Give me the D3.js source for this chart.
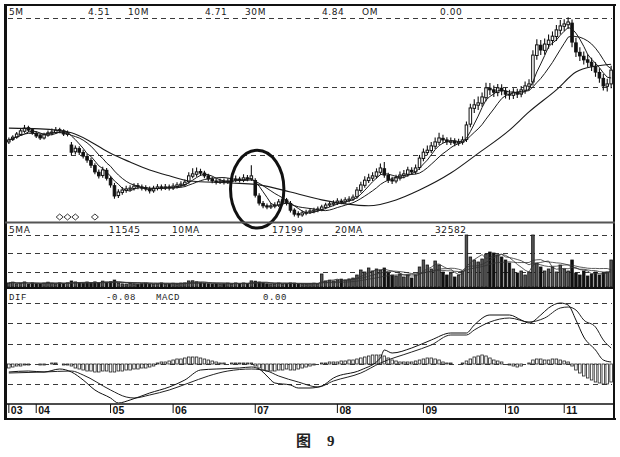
<!DOCTYPE html>
<html><head><meta charset="utf-8">
<script src="https://cdn.jsdelivr.net/npm/d3@7"></script>
<style>
html,body{margin:0;padding:0;background:#fff;}
svg{display:block;}
</style></head><body>
<svg id="chart" width="620" height="457"></svg>
<script>
// ---------------- DATA ----------------
const monthLabels = ["03","04","05","06","07","08","09","10","11"];
const monthStart  = [0, 7, 26, 42, 63, 84, 106, 127, 142];

const open = [2.93,2.99,3.05,3.12,3.20,3.29,3.24,3.15,3.09,3.03,3.10,3.15,3.17,3.24,3.21,3.12,
2.85,2.68,2.76,2.66,2.56,2.46,2.33,2.16,2.08,2.21,2.00,1.82,1.57,1.65,1.70,1.73,
1.75,1.82,1.79,1.77,1.74,1.69,1.75,1.79,1.76,1.79,1.76,1.80,1.83,1.85,1.92,2.06,
2.11,2.18,2.14,2.07,1.99,1.94,1.91,1.94,1.91,1.93,1.96,1.99,1.96,2.02,1.99,1.95,
1.56,1.37,1.31,1.28,1.30,1.33,1.40,1.46,1.37,1.20,1.11,1.08,1.12,1.15,1.17,1.20,
1.22,1.27,1.33,1.35,1.38,1.43,1.41,1.45,1.48,1.54,1.70,1.83,1.95,2.01,2.06,2.16,
2.25,2.08,1.97,1.94,2.01,2.08,2.11,2.21,2.17,2.28,2.51,2.66,2.71,2.82,2.92,3.02,
2.98,2.92,2.95,2.90,2.92,2.99,3.38,3.78,3.86,3.91,4.05,4.29,4.25,4.18,4.29,4.22,
4.14,4.11,4.19,4.14,4.24,4.34,4.45,5.12,5.38,5.25,5.40,5.50,5.60,5.76,5.86,5.90,
5.94,5.44,5.20,5.10,5.01,4.95,4.84,4.69,4.54,4.34,4.40];
const high = [3.04,3.10,3.18,3.27,3.36,3.34,3.28,3.20,3.14,3.16,3.22,3.27,3.31,3.29,3.25,3.22,
2.93,2.84,2.82,2.73,2.63,2.53,2.39,2.23,2.30,2.27,2.06,1.89,1.73,1.79,1.82,1.83,
1.88,1.89,1.85,1.83,1.80,1.82,1.86,1.85,1.86,1.85,1.88,1.91,1.93,1.98,2.16,2.26,
2.28,2.25,2.20,2.12,2.05,2.00,2.00,2.00,2.01,2.03,2.08,2.05,2.11,2.09,2.34,2.01,
1.63,1.43,1.37,1.38,1.40,1.48,1.53,1.51,1.43,1.25,1.17,1.19,1.21,1.24,1.26,1.29,
1.34,1.39,1.43,1.45,1.50,1.49,1.53,1.55,1.60,1.79,1.92,2.06,2.12,2.16,2.26,2.38,
2.42,2.15,2.05,2.10,2.18,2.22,2.30,2.29,2.36,2.60,2.76,2.84,2.93,3.04,3.16,3.11,
3.05,3.04,3.02,3.01,3.07,3.45,3.90,4.01,4.08,4.18,4.43,4.42,4.36,4.40,4.39,4.31,
4.25,4.29,4.28,4.35,4.46,4.52,5.25,5.53,5.51,5.55,5.65,5.73,5.89,6.02,6.04,6.09,
6.03,5.57,5.33,5.22,5.15,5.06,4.95,4.80,4.65,4.53,4.86];
const low = [2.88,2.95,3.01,3.08,3.16,3.18,3.11,3.03,2.98,2.99,3.06,3.10,3.13,3.15,3.08,3.07,
2.59,2.61,2.60,2.51,2.40,2.27,2.11,2.00,2.02,1.95,1.77,1.49,1.51,1.59,1.64,1.67,
1.70,1.73,1.70,1.68,1.62,1.64,1.70,1.70,1.71,1.70,1.71,1.75,1.78,1.80,1.87,2.01,
2.05,2.07,2.01,1.93,1.88,1.85,1.86,1.85,1.86,1.88,1.91,1.90,1.91,1.93,1.94,1.52,
1.32,1.25,1.22,1.23,1.25,1.28,1.35,1.32,1.14,1.04,1.01,1.03,1.07,1.10,1.12,1.15,
1.17,1.22,1.28,1.30,1.33,1.35,1.36,1.40,1.43,1.49,1.64,1.77,1.89,1.94,2.00,2.10,
2.02,1.89,1.86,1.88,1.95,2.01,2.05,2.10,2.11,2.22,2.44,2.59,2.65,2.75,2.85,2.90,
2.85,2.85,2.82,2.83,2.86,2.93,3.30,3.66,3.74,3.82,3.96,4.12,4.07,4.09,4.11,4.03,
4.00,4.02,4.04,4.06,4.15,4.24,4.36,5.01,5.13,5.14,5.29,5.38,5.49,5.65,5.74,5.79,
5.33,5.08,4.98,4.89,4.83,4.73,4.58,4.43,4.23,4.21,4.29];
const close = [2.98,3.05,3.13,3.21,3.28,3.23,3.16,3.08,3.03,3.11,3.16,3.18,3.23,3.21,3.13,3.16,
2.67,2.77,2.67,2.57,2.47,2.34,2.17,2.07,2.22,2.01,1.84,1.56,1.66,1.71,1.74,1.76,
1.81,1.79,1.76,1.74,1.69,1.76,1.79,1.76,1.79,1.76,1.81,1.84,1.86,1.91,2.07,2.12,
2.17,2.14,2.07,1.99,1.94,1.91,1.94,1.91,1.94,1.96,1.99,1.96,2.02,1.99,2.07,1.58,
1.38,1.31,1.28,1.31,1.33,1.41,1.46,1.38,1.20,1.10,1.08,1.13,1.15,1.18,1.20,1.23,
1.28,1.33,1.36,1.38,1.43,1.41,1.46,1.48,1.53,1.71,1.84,1.96,2.02,2.07,2.17,2.27,
2.09,1.96,1.94,2.02,2.09,2.12,2.22,2.17,2.27,2.52,2.67,2.72,2.83,2.93,3.03,2.98,
2.93,2.95,2.90,2.93,2.98,3.36,3.79,3.87,3.92,4.07,4.30,4.25,4.19,4.30,4.22,4.14,
4.12,4.19,4.14,4.25,4.35,4.40,5.13,5.39,5.26,5.41,5.51,5.61,5.77,5.87,5.92,5.97,
5.46,5.21,5.11,5.01,4.95,4.85,4.70,4.55,4.35,4.40,4.75];
const volume = [7300,8800,5600,6900,9100,5200,7400,5800,5500,7100,8700,6900,5600,7300,5900,7500,
10800,9100,7300,6800,8900,7600,9200,7100,10600,8800,9400,12500,7200,5600,5300,6900,
5400,5100,5800,7000,5500,5200,5700,7300,5400,5600,6800,5300,7100,7400,10900,11200,
9300,7600,6900,5800,5300,5500,5100,5600,7000,5400,7300,5700,7200,5900,11000,10500,
8900,7200,5600,5200,5500,7100,5400,5800,7300,7000,5300,5600,5400,5900,6900,5700,
23400,10800,12400,10900,12800,14200,12600,14500,16100,21600,30600,27000,34200,28800,32400,30600,
34200,25200,21600,19800,23400,18000,21600,16200,21600,36000,48600,39600,32400,46800,39600,27000,
21600,25200,18000,21600,28800,93600,54000,48600,45000,50400,59400,63000,61200,57600,54000,48600,
43200,32400,25200,28800,21600,27000,93600,43200,36000,28800,32400,36000,27000,39600,32400,28800,
48600,25200,21600,28800,19800,23400,27000,21600,25200,27000,48600];

// 30-day price MA: [bar index, price]
const ma30Keys = [[0,3.28],[8,3.26],[16,3.16],[21,2.93],[26,2.64],[31,2.42],[36,2.22],[41,2.07],
[46,1.94],[57,1.89],[64,1.84],[72,1.66],[80,1.46],[86,1.36],[92,1.31],[99,1.46],[105,1.71],
[113,2.14],[120,2.64],[128,3.23],[133,3.69],[140,4.25],[145,4.70],[150,4.85],[154,4.90]];

// MACD panel
const difKeys = [[0,-0.08],[5,-0.07],[9,-0.08],[13,-0.05],[16,-0.08],[19,-0.16],[22,-0.26],[26,-0.34],
[28,-0.39],[31,-0.36],[36,-0.29],[41,-0.23],[45,-0.16],[49,-0.06],[53,-0.05],[59,-0.04],[62,-0.03],
[64,-0.05],[66,-0.12],[68,-0.19],[72,-0.21],[74,-0.24],[77,-0.24],[80,-0.22],[83,-0.14],[90,-0.06],
[95,0.06],[96,0.14],[98,0.11],[103,0.16],[108,0.24],[113,0.31],[117,0.31],[119,0.39],[123,0.49],
[128,0.49],[131,0.44],[133,0.41],[136,0.49],[138,0.56],[141,0.61],[143,0.59],[145,0.44],[147,0.27],
[150,0.14],[152,0.04],[154,0.02]];
const deaKeys = [[0,-0.09],[9,-0.08],[16,-0.07],[19,-0.11],[26,-0.26],[30,-0.33],[32,-0.34],[36,-0.31],
[41,-0.26],[46,-0.19],[51,-0.12],[56,-0.07],[62,-0.05],[66,-0.07],[69,-0.12],[74,-0.18],[79,-0.23],
[83,-0.17],[90,-0.09],[95,0.01],[103,0.12],[108,0.19],[113,0.29],[117,0.29],[119,0.34],[123,0.42],
[128,0.46],[133,0.42],[137,0.46],[141,0.56],[143,0.57],[145,0.54],[147,0.44],[150,0.37],[152,0.24],[154,0.16]];
const macdHist = [-0.04,-0.03,-0.02,-0.02,-0.01,-0.01,0,0,-0.01,-0.01,0,0.01,0.01,0,-0.01,-0.01,
-0.02,-0.04,-0.05,-0.06,-0.07,-0.07,-0.08,-0.08,-0.07,-0.07,-0.08,-0.08,-0.07,-0.07,-0.06,-0.06,
-0.05,-0.05,-0.04,-0.04,-0.03,-0.02,0.01,0.02,0.02,0.03,0.04,0.05,0.05,0.06,0.07,0.07,
0.07,0.06,0.05,0.04,0.03,0.02,0.01,0.01,0,0.01,0.01,0.01,0.01,0.01,0.01,-0.02,
-0.04,-0.06,-0.07,-0.07,-0.07,-0.06,-0.06,-0.05,-0.06,-0.06,-0.05,-0.04,-0.03,-0.02,-0.01,0,
0.01,0.01,0.02,0.02,0.02,0.03,0.03,0.04,0.04,0.05,0.06,0.07,0.08,0.09,0.09,0.09,
0.08,0.06,0.04,0.03,0.02,0.02,0.02,0.02,0.03,0.04,0.05,0.06,0.06,0.05,0.04,0.02,
0.01,0.01,0,0,0.01,0.03,0.05,0.07,0.08,0.09,0.08,0.06,0.04,0.03,0.02,0,
-0.01,-0.02,-0.03,-0.02,0,0.01,0.04,0.05,0.05,0.04,0.04,0.05,0.05,0.04,0.03,0.02,
-0.02,-0.06,-0.09,-0.12,-0.14,-0.16,-0.18,-0.19,-0.20,-0.20,-0.18];

const signalBars = [13, 15, 17, 22];
const circleBars = [57, 70];
const circlePrices = [0.75, 2.72];

const priceGrid = [2.60, 4.32, 6.07];
const volGrid = [27000, 61200, 93600];
const macdGrid = [-0.20, 0, 0.20, 0.41, 0.61];

const priceLegendNames = ["5M","10M","30M","OM"];
const priceLegendValues = ["4.51","4.71","4.84","0.00"];
const volLegendNames = ["5MA","10MA","20MA"];
const volLegendValues = ["11545","17199","32582"];
const macdLegendNames = ["DIF","MACD"];
const macdLegendValues = ["-0.08","0.00"];
const caption = ["图", "9"];

// ---------------- LAYOUT ----------------
const L = 7, R = 613;
const P = {top: 5, bottom: 222};
const V = {top: 222, bottom: 287};
const M = {top: 290, bottom: 403};
const axisY = 404;

const svg = d3.select("#chart");
svg.append("rect").attr("width",620).attr("height",457).attr("fill","#fff");

const N = close.length;
const x = d3.scaleBand().domain(d3.range(N)).range([L, R]).paddingInner(0.35).paddingOuter(0.15);
const bw = x.bandwidth();
const cx = i => x(i) + bw / 2;

const priceY = d3.scaleLinear().domain([0.9, 6.4]).range([P.bottom, P.top]);
const volY = d3.scaleLinear().domain([0, 117000]).range([V.bottom, V.top]);
const macdY = d3.scaleLinear().domain([-0.39, 0.74]).range([M.bottom, M.top]);

const defs = svg.append("defs");
defs.append("clipPath").attr("id","cp").append("rect").attr("x",L).attr("y",P.top).attr("width",R-L).attr("height",P.bottom-P.top);
defs.append("clipPath").attr("id","cv").append("rect").attr("x",L).attr("y",V.top+1).attr("width",R-L).attr("height",V.bottom-V.top);
defs.append("clipPath").attr("id","cm").append("rect").attr("x",L).attr("y",M.top).attr("width",R-L).attr("height",M.bottom-M.top);

// gridlines
function grid(vals, scale) {
  svg.append("g").selectAll("line").data(vals).join("line")
    .attr("x1", L + 1).attr("x2", R - 1)
    .attr("y1", d => Math.round(scale(d)) + 0.5).attr("y2", d => Math.round(scale(d)) + 0.5)
    .attr("stroke", "#3a3a3a").attr("stroke-width", 1).attr("stroke-dasharray", "5,4");
}
grid(priceGrid, priceY);
grid(volGrid, volY);
grid(macdGrid, macdY);

// ---------- price panel ----------
const gp = svg.append("g").attr("clip-path","url(#cp)");
const idx = d3.range(N);
gp.append("g").selectAll("line").data(idx).join("line")
  .attr("x1", cx).attr("x2", cx)
  .attr("y1", i => priceY(high[i])).attr("y2", i => priceY(low[i]))
  .attr("stroke", "#111").attr("stroke-width", 1.1);
gp.append("g").selectAll("rect").data(idx).join("rect")
  .attr("x", i => x(i)).attr("width", bw)
  .attr("y", i => priceY(Math.max(open[i], close[i])))
  .attr("height", i => Math.max(1, Math.abs(priceY(open[i]) - priceY(close[i]))))
  .attr("fill", i => close[i] >= open[i] ? "#fff" : "#111")
  .attr("stroke", "#111").attr("stroke-width", 1);

function sma(arr, n) {
  return arr.map((_, i) => d3.mean(arr.slice(Math.max(0, i - n + 1), i + 1)));
}
const ma5 = sma(close, 5), ma10 = sma(close, 10);
const lineP = d3.line().x((d, i) => cx(i)).y(d => priceY(d));
[ma5, ma10].forEach(s => gp.append("path").attr("d", lineP(s))
  .attr("fill", "none").attr("stroke", "#1a1a1a").attr("stroke-width", 1));
gp.append("path")
  .attr("d", d3.line().x(d => cx(d[0])).y(d => priceY(d[1])).curve(d3.curveMonotoneX)(ma30Keys))
  .attr("fill", "none").attr("stroke", "#1a1a1a").attr("stroke-width", 1.1);

// signal diamonds
svg.append("g").selectAll("path").data(signalBars).join("path")
  .attr("transform", d => `translate(${cx(d)},217)`)
  .attr("d", "M0,-3L3.5,0L0,3L-3.5,0Z")
  .attr("fill", "#fff").attr("stroke", "#222").attr("stroke-width", 0.9);

// ---------- volume panel ----------
const gv = svg.append("g").attr("clip-path","url(#cv)");
gv.append("g").selectAll("rect").data(idx).join("rect")
  .attr("x", i => x(i)).attr("width", bw)
  .attr("y", i => volY(volume[i])).attr("height", i => V.bottom - volY(volume[i]))
  .attr("fill", i => close[i] >= open[i] ? "#555" : "#111")
  .attr("stroke", "#111").attr("stroke-width", 0.8);
const lineV = d3.line().x((d, i) => cx(i)).y(d => volY(d));
[5, 10, 20].forEach(n => gv.append("path").attr("d", lineV(sma(volume, n)))
  .attr("fill", "none").attr("stroke", "#333").attr("stroke-width", 0.8));

// ---------- MACD panel ----------
const gm = svg.append("g").attr("clip-path","url(#cm)");
gm.append("g").selectAll("rect").data(idx).join("rect")
  .attr("x", i => x(i)).attr("width", bw)
  .attr("y", i => Math.min(macdY(0), macdY(macdHist[i])))
  .attr("height", i => Math.abs(macdY(macdHist[i]) - macdY(0)))
  .attr("fill", "#fff").attr("stroke", "#222").attr("stroke-width", 0.8);
const lineM = d3.line().x(d => cx(d[0])).y(d => macdY(d[1])).curve(d3.curveMonotoneX);
gm.append("path").attr("d", lineM(deaKeys)).attr("fill","none").attr("stroke","#222").attr("stroke-width",1);
gm.append("path").attr("d", lineM(difKeys)).attr("fill","none").attr("stroke","#111").attr("stroke-width",1);

// ---------- ellipse annotation ----------
const ex0 = x(circleBars[0]), ex1 = x(circleBars[1]) + bw;
const ey0 = priceY(circlePrices[1]), ey1 = priceY(circlePrices[0]);
svg.append("ellipse")
  .attr("cx", (ex0 + ex1) / 2).attr("cy", (ey0 + ey1) / 2)
  .attr("rx", (ex1 - ex0) / 2).attr("ry", (ey1 - ey0) / 2)
  .attr("fill", "none").attr("stroke", "#111").attr("stroke-width", 3);

// ---------- frame ----------
const frame = svg.append("g").attr("stroke", "#111");
frame.append("line").attr("x1",4).attr("x2",616).attr("y1",5).attr("y2",5).attr("stroke-width",2);
frame.append("line").attr("x1",5.5).attr("x2",5.5).attr("y1",4).attr("y2",420).attr("stroke-width",3);
frame.append("line").attr("x1",614).attr("x2",614).attr("y1",4).attr("y2",420).attr("stroke-width",2);
frame.append("line").attr("x1",5).attr("x2",615).attr("y1",222.5).attr("y2",222.5).attr("stroke-width",2).attr("stroke","#555");
frame.append("line").attr("x1",5).attr("x2",615).attr("y1",288).attr("y2",288).attr("stroke-width",2);
frame.append("line").attr("x1",5).attr("x2",615).attr("y1",axisY).attr("y2",axisY).attr("stroke-width",1.5);
frame.append("line").attr("x1",4).attr("x2",616).attr("y1",419).attr("y2",419).attr("stroke-width",2);

// ---------- axis ----------
const axis = d3.axisBottom(x).tickValues(monthStart)
  .tickFormat(d => monthLabels[monthStart.indexOf(d)]).tickSize(9).tickPadding(2);
const ga = svg.append("g").attr("transform", `translate(0,${axisY})`).call(axis);
ga.select(".domain").remove();
ga.selectAll(".tick line").attr("stroke", "#111").attr("stroke-width", 1);
ga.selectAll(".tick text").attr("text-anchor", "start").attr("x", 2).attr("y", 3)
  .attr("font-family", "'Liberation Sans', Arial, sans-serif").attr("font-weight", "bold")
  .attr("font-size", 10.5).attr("fill", "#111");

// ---------- legends ----------
function legend(names, values, nameX, valueX, y, family) {
  const g = svg.append("g").attr("font-family", family).attr("font-size", 9)
    .attr("letter-spacing", 0.6).attr("fill", "#1a1a1a");
  g.selectAll("text.n").data(names).join("text").attr("class","n")
    .attr("x", (d, i) => nameX[i]).attr("y", y).text(d => d);
  g.selectAll("text.v").data(values).join("text").attr("class","v")
    .attr("x", (d, i) => valueX[i]).attr("y", y).text(d => d);
}
legend(priceLegendNames, priceLegendValues, [9,128,245,362], [88,205,322,440], 15, "'DejaVu Sans', sans-serif");
legend(volLegendNames, volLegendValues, [9,172,335], [109,272,435], 233, "'DejaVu Sans', sans-serif");
legend(macdLegendNames, macdLegendValues, [9,156], [106,263], 300, "'Liberation Mono', monospace");

// ---------- caption ----------
svg.append("text").attr("x", 296).attr("y", 446)
  .attr("font-family", "'Noto Sans CJK SC', sans-serif").attr("font-weight", "bold")
  .attr("font-size", 15).attr("fill", "#222").text(caption[0]);
svg.append("text").attr("x", 327).attr("y", 446)
  .attr("font-family", "'Liberation Serif', serif").attr("font-weight", "bold")
  .attr("font-size", 15).attr("fill", "#222").text(caption[1]);
</script>
</body></html>
